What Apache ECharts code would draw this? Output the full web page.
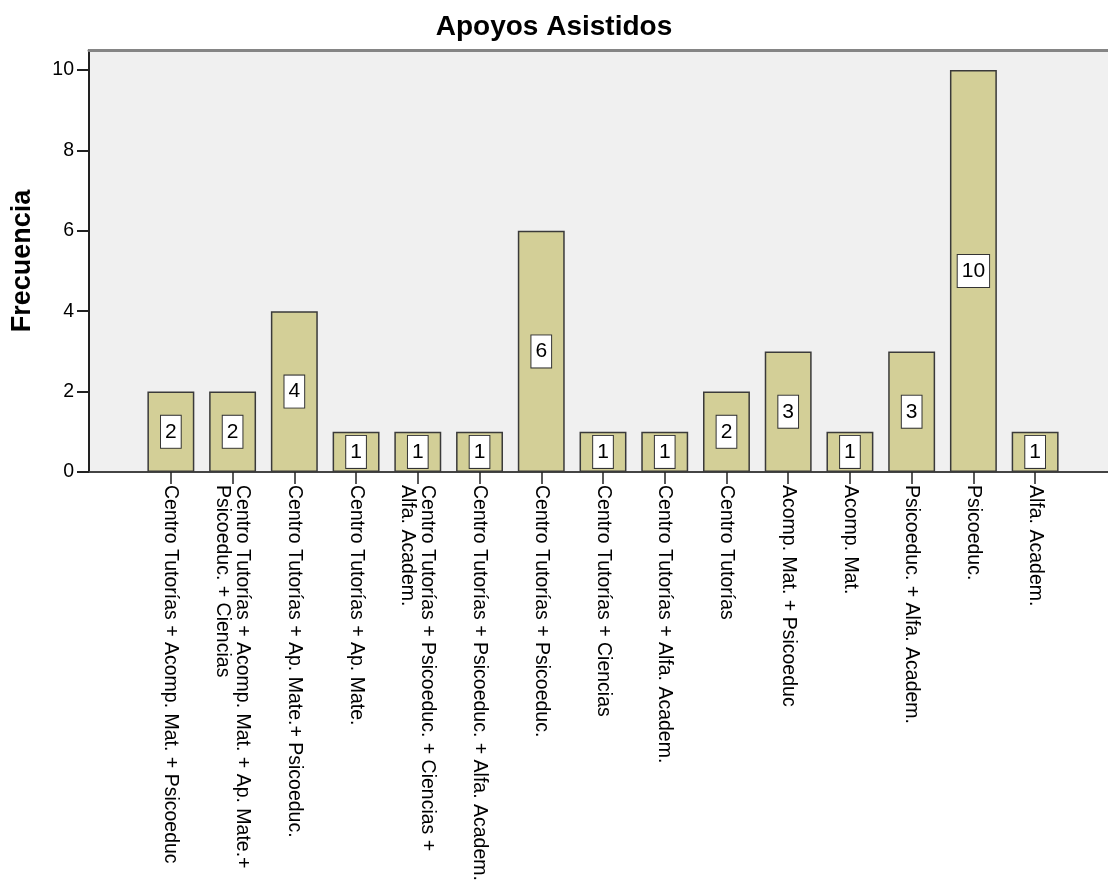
<!DOCTYPE html>
<html>
<head>
<meta charset="utf-8">
<script src="https://cdn.jsdelivr.net/npm/echarts@6/dist/echarts.min.js"></script>
<style>
html,body{margin:0;padding:0;background:#fff;}
#chart{width:1108px;height:889px;}
</style>
</head>
<body>
<div id="chart"></div>
<script>
const titleText = 'Apoyos Asistidos';
const yAxisName = 'Frecuencia';
const categories = [
  'Centro Tutorías + Acomp. Mat. + Psicoeduc',
  'Centro Tutorías + Acomp. Mat. + Ap. Mate.+\nPsicoeduc. + Ciencias',
  'Centro Tutorías + Ap. Mate.+ Psicoeduc.',
  'Centro Tutorías + Ap. Mate.',
  'Centro Tutorías + Psicoeduc. + Ciencias +\nAlfa. Academ.',
  'Centro Tutorías + Psicoeduc. + Alfa. Academ.',
  'Centro Tutorías + Psicoeduc.',
  'Centro Tutorías + Ciencias',
  'Centro Tutorías + Alfa. Academ.',
  'Centro Tutorías',
  'Acomp. Mat. + Psicoeduc',
  'Acomp. Mat.',
  'Psicoeduc. + Alfa. Academ.',
  'Psicoeduc.',
  'Alfa. Academ.'
];
const frecuencia = [2, 2, 4, 1, 1, 1, 6, 1, 1, 2, 3, 1, 3, 10, 1];
const yTicks = [0, 2, 4, 6, 8, 10];
const yMax = 10.5;

const FONT = '"Liberation Sans", Arial, sans-serif';
const chart = echarts.init(document.getElementById('chart'));
chart.setOption({
  animation: false,
  backgroundColor: '#ffffff',
  title: {
    text: titleText,
    left: 'center',
    top: 8,
    textStyle: { fontFamily: FONT, fontSize: 28, fontWeight: 'bold', color: '#000' }
  },
  grid: [
    { left: 89, right: -9, top: 50, bottom: 417, show: true, backgroundColor: '#f0f0f0', borderWidth: 0,
      containLabel: false, outerBoundsMode: 'none' },
    { left: 140, right: 42, top: 50, bottom: 417, containLabel: false, outerBoundsMode: 'none' }
  ],
  xAxis: [
    { gridIndex: 0, type: 'value', min: 0, max: 1, position: 'bottom',
      axisLine: { show: true, lineStyle: { color: '#444', width: 2 } },
      axisTick: { show: false }, axisLabel: { show: false }, splitLine: { show: false } },
    { gridIndex: 0, type: 'value', min: 0, max: 1, position: 'top',
      axisLine: { show: true, lineStyle: { color: '#858585', width: 3 } },
      axisTick: { show: false }, axisLabel: { show: false }, splitLine: { show: false } },
    { gridIndex: 1, type: 'category', data: categories, position: 'bottom',
      axisLine: { show: false },
      axisTick: { show: true, alignWithLabel: true, length: 12, lineStyle: { color: '#222', width: 1.5 } },
      axisLabel: { interval: 0, rotate: -90, margin: 13, fontFamily: FONT, fontSize: 19.5, lineHeight: 20, color: '#000' },
      splitLine: { show: false } }
  ],
  yAxis: [
    { gridIndex: 0, type: 'value', min: 0, max: yMax,
      name: yAxisName, nameLocation: 'middle', nameGap: 53,
      nameTextStyle: { fontFamily: FONT, fontSize: 27, fontWeight: 'bold', color: '#000' },
      axisLine: { show: true, lineStyle: { color: '#222', width: 2 } },
      axisTick: { show: true, length: 12, customValues: yTicks, lineStyle: { color: '#222', width: 2 } },
      axisLabel: { customValues: yTicks, margin: 15, fontFamily: FONT, fontSize: 19.5, color: '#000' },
      splitLine: { show: false } },
    { gridIndex: 1, type: 'value', min: 0, max: yMax, show: false, splitLine: { show: false } }
  ],
  series: [{
    type: 'bar',
    xAxisIndex: 2,
    yAxisIndex: 1,
    data: frecuencia,
    barWidth: '76%',
    itemStyle: { color: '#d3cf97', borderColor: '#3a3a3a', borderWidth: 1.5 },
    label: {
      show: true,
      position: 'inside',
      fontFamily: FONT,
      fontSize: 21,
      color: '#000',
      backgroundColor: '#ffffff',
      borderColor: '#333',
      borderWidth: 1,
      padding: [6, 4, 5, 4]
    }
  }]
});
</script>
</body>
</html>
